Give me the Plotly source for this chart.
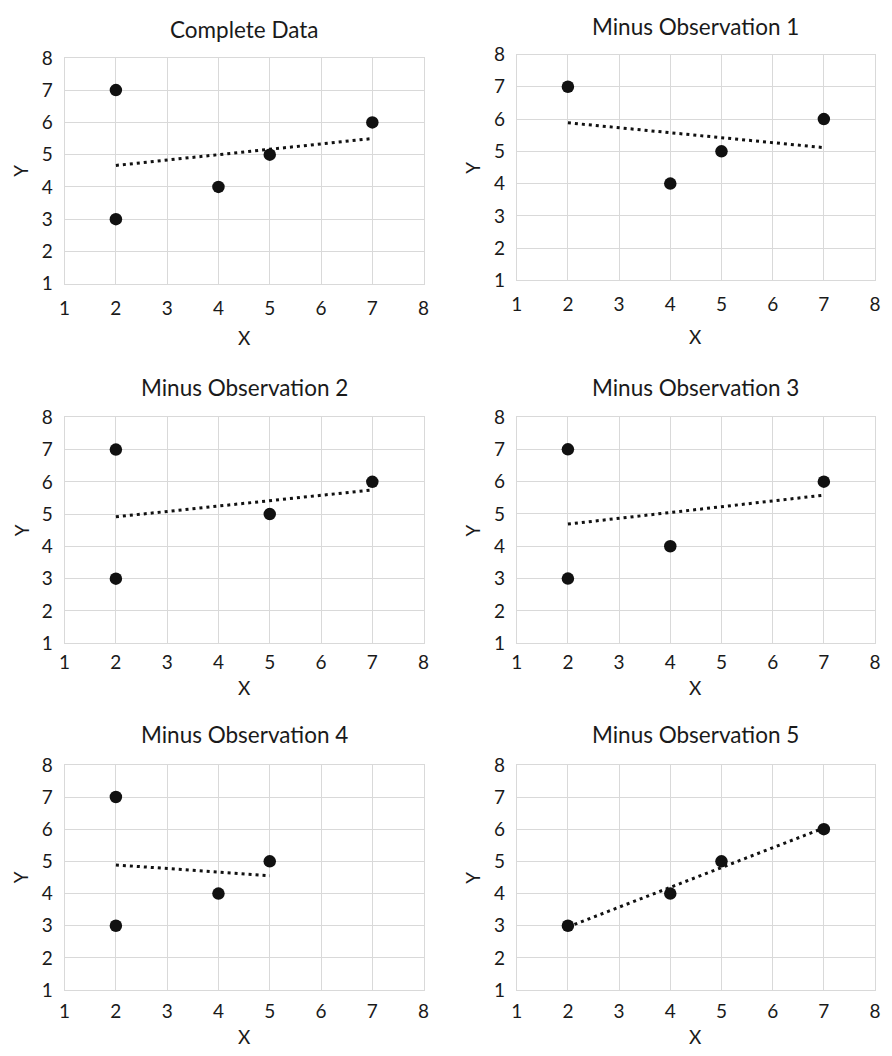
import numpy as np
import plotly.graph_objects as go

# Data
obs_x = [2, 4, 5, 7, 2]
obs_y = [3, 4, 5, 6, 7]
panel_titles = ["Complete Data", "Minus Observation 1", "Minus Observation 2",
                "Minus Observation 3", "Minus Observation 4", "Minus Observation 5"]
excluded = [None, 0, 1, 2, 3, 4]
tick_vals = [1, 2, 3, 4, 5, 6, 7, 8]

# page has an 8px body margin; work in window pixels and shift
OX, OY = 8, 8
W, H = 892 - 2 * OX, 1056 - 2 * OY
# window-pixel boxes: (left, right, top, bottom)
boxes = [
    (59.3, 423.3, 46.7, 277.7),
    (517.7, 881.0, 43.3, 274.3),
    (59.3, 423.3, 414.3, 645.3),
    (517.7, 881.0, 414.0, 645.3),
    (59.3, 423.3, 769.7, 1000.0),
    (517.7, 881.0, 769.7, 1000.0),
]
title_y = [17.5, 14.5, 384.0, 384.0, 739.0, 739.0]
xlab_y = [333.0, 331.7, 691.0, 691.0, 1047.3, 1047.3]
ylab_x = [15.0, 472.7, 15.0, 472.7, 15.0, 472.7]
xstand = [7, 7, 2, 2, 4, 4]

FONT = "Lato"
FS = 19
FT = 22.5
TXT = "#1a1a1a"
GRID = "#d9d9d9"


def px(xw):
    return (xw - OX) / W


def py(yw):
    return 1 - (yw - OY) / H


fig = go.Figure()
layout = dict(width=W, height=H, margin=dict(l=0, r=0, t=0, b=0),
              paper_bgcolor="white", plot_bgcolor="white", showlegend=False,
              font=dict(family=FONT, size=FS, color=TXT))
annotations = []

for i in range(6):
    xs = [x for k, x in enumerate(obs_x) if k != excluded[i]]
    ys = [y for k, y in enumerate(obs_y) if k != excluded[i]]
    sfx = "" if i == 0 else str(i + 1)
    xa, ya = "x" + sfx, "y" + sfx
    slope, icpt = np.polyfit(xs, ys, 1)
    tx = [min(xs), max(xs)]
    ty = [icpt + slope * v for v in tx]
    fig.add_trace(go.Scatter(x=tx, y=ty, mode="lines", xaxis=xa, yaxis=ya,
                             line=dict(color="#111111", width=3, dash="3px,4px"),
                             hoverinfo="skip"))
    fig.add_trace(go.Scatter(x=xs, y=ys, mode="markers", xaxis=xa, yaxis=ya,
                             marker=dict(size=12.5, color="#111111")))
    l, r, t, b = boxes[i]
    axcommon = dict(range=[1, 8], tickvals=tick_vals, showgrid=True, gridcolor=GRID,
                    gridwidth=1, showline=True, linecolor=GRID, linewidth=1, mirror=True,
                    zeroline=False, ticks="", tickfont=dict(family=FONT, size=FS, color=TXT),
                    fixedrange=True)
    layout["xaxis" + sfx] = dict(axcommon, domain=[px(l), px(r)], anchor=ya,
                                 ticklabelstandoff=xstand[i])
    layout["yaxis" + sfx] = dict(axcommon, domain=[py(b), py(t)], anchor=xa,
                                 ticklabelstandoff=7)
    annotations.append(dict(text=panel_titles[i], x=px((l + r) / 2), y=py(title_y[i]),
                            xref="paper", yref="paper", xanchor="center", yanchor="middle",
                            showarrow=False, font=dict(family=FONT, size=FT, color=TXT)))
    annotations.append(dict(text="X", x=px((l + r) / 2), y=py(xlab_y[i]),
                            xref="paper", yref="paper", xanchor="center", yanchor="middle",
                            showarrow=False, font=dict(family=FONT, size=FS, color=TXT)))
    annotations.append(dict(text="Y", x=px(ylab_x[i]), y=py((t + b) / 2),
                            xref="paper", yref="paper", xanchor="center", yanchor="middle",
                            textangle=-90, showarrow=False,
                            font=dict(family=FONT, size=FS, color=TXT)))

layout["annotations"] = annotations
fig.update_layout(**layout)
fig.write_html("out.html")
